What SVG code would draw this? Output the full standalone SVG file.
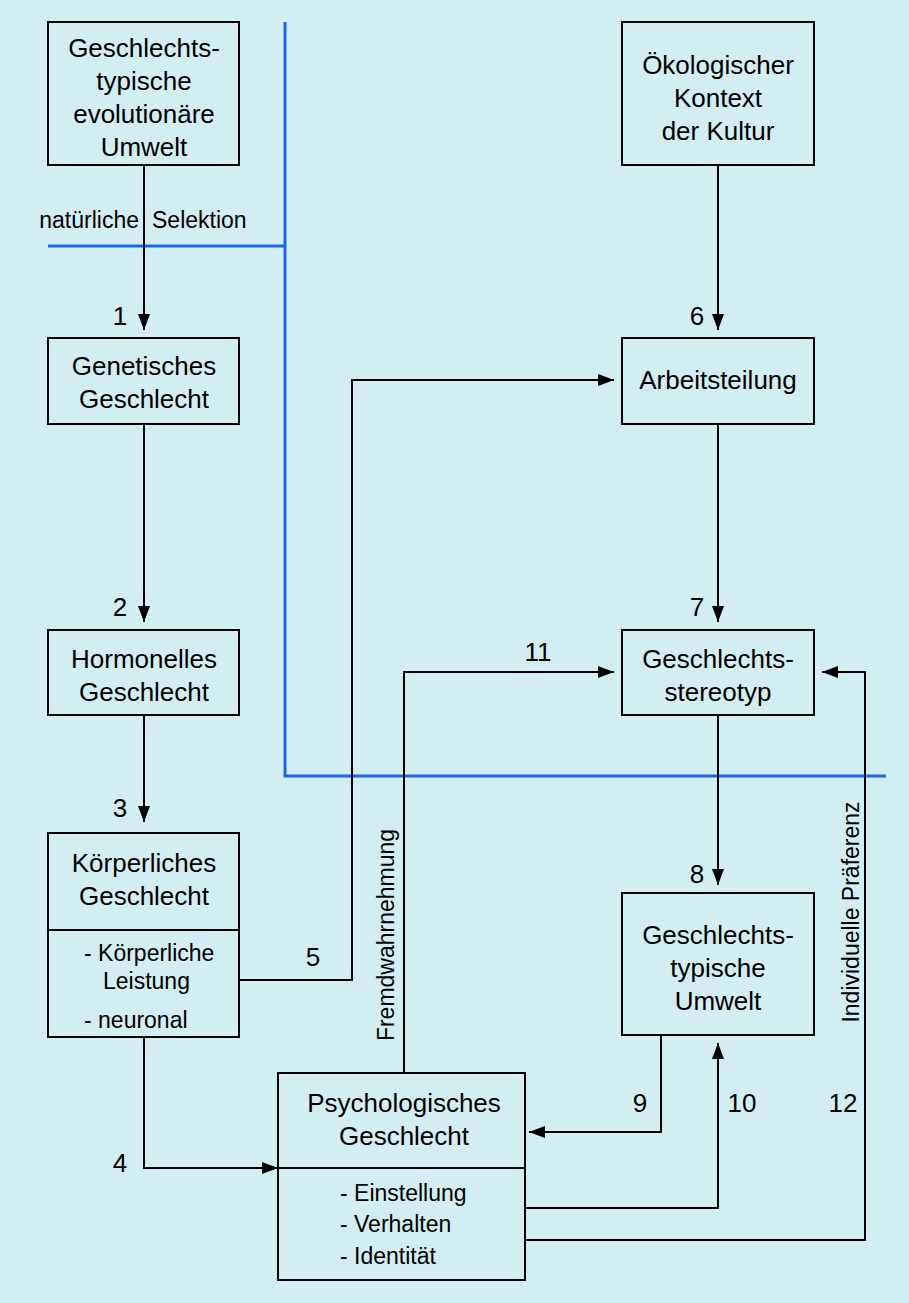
<svg xmlns="http://www.w3.org/2000/svg" width="909" height="1303" viewBox="0 0 909 1303">
<defs><marker id="ah" markerWidth="16" markerHeight="12" refX="16" refY="6" orient="auto" markerUnits="userSpaceOnUse"><path d="M0,0 L16,6 L0,12 z" fill="#000"/></marker></defs>
<style>
.b{fill:none;stroke:#000;stroke-width:2}
.c{fill:none;stroke:#000;stroke-width:2;marker-end:url(#ah)}
.bl{fill:none;stroke:#1a66e6;stroke-width:3}
text{font-family:"Liberation Sans",Arial,sans-serif;font-size:26px;fill:#000}
.m{text-anchor:middle}
.s{font-size:23px}
</style>
<rect width="909" height="1303" fill="#d3eef2"/>
<g id="blue"><path class="bl" d="M285,22 V776 H886 M48,246 H285"/></g>
<g id="connectors">
<path class="c" d="M144,165 V330"/>
<path class="c" d="M144,424 V622"/>
<path class="c" d="M144,715 V822"/>
<path class="c" d="M144,1037 V1168 H278"/>
<path class="c" d="M239,980 H352 V380 H614"/>
<path class="c" d="M718,165 V330"/>
<path class="c" d="M718,424 V622"/>
<path class="c" d="M718,715 V885"/>
<path class="c" d="M404,1073 V672 H614"/>
<path class="c" d="M661,1035 V1132 H529"/>
<path class="c" d="M525,1208 H718 V1043"/>
<path class="c" d="M525,1240 H865 V672 H822"/>
<text x="139" y="228" text-anchor="end" class="s">natürliche</text><text x="152" y="228" class="s">Selektion</text>
<text x="120" y="325" class="m">1</text><text x="120" y="616" class="m">2</text><text x="120" y="817" class="m">3</text><text x="120" y="1172" class="m">4</text>
<text x="313" y="966" class="m">5</text><text x="697" y="325" class="m">6</text><text x="697" y="616" class="m">7</text><text x="697" y="883" class="m">8</text>
<text x="640" y="1112" class="m">9</text><text x="742" y="1112" class="m">10</text><text x="538" y="661" class="m">11</text><text x="843" y="1112" class="m">12</text>
<text class="m s" transform="translate(394,935) rotate(-90)">Fremdwahrnehmung</text>
<text class="m s" transform="translate(859,912) rotate(-90)">Individuelle Präferenz</text>
</g>
<g id="n1"><rect class="b" x="48" y="22" width="191" height="143"/><text class="m" x="144" y="57">Geschlechts-</text><text class="m" x="144" y="90">typische</text><text class="m" x="144" y="123">evolutionäre</text><text class="m" x="144" y="156">Umwelt</text></g>
<g id="n2"><rect class="b" x="622" y="22" width="192" height="143"/><text class="m" x="718" y="74">Ökologischer</text><text class="m" x="718" y="107">Kontext</text><text class="m" x="718" y="140">der Kultur</text></g>
<g id="n3"><rect class="b" x="48" y="338" width="191" height="86"/><text class="m" x="144" y="375">Genetisches</text><text class="m" x="144" y="408">Geschlecht</text></g>
<g id="n4"><rect class="b" x="622" y="338" width="192" height="86"/><text class="m" x="718" y="389">Arbeitsteilung</text></g>
<g id="n5"><rect class="b" x="48" y="630" width="191" height="85"/><text class="m" x="144" y="668">Hormonelles</text><text class="m" x="144" y="701">Geschlecht</text></g>
<g id="n6"><rect class="b" x="622" y="630" width="192" height="85"/><text class="m" x="718" y="668">Geschlechts-</text><text class="m" x="718" y="701">stereotyp</text></g>
<g id="n7"><rect class="b" x="48" y="833" width="191" height="204"/><path class="b" d="M48,930 H239"/><text class="m" x="144" y="872">Körperliches</text><text class="m" x="144" y="905">Geschlecht</text><text class="s" x="84" y="961">-  Körperliche</text><text class="s" x="103" y="989">Leistung</text><text class="s" x="84" y="1028">-  neuronal</text></g>
<g id="n8"><rect class="b" x="622" y="893" width="192" height="142"/><text class="m" x="718" y="944">Geschlechts-</text><text class="m" x="718" y="977">typische</text><text class="m" x="718" y="1010">Umwelt</text></g>
<g id="n9"><rect class="b" x="278" y="1073" width="247" height="207"/><path class="b" d="M278,1168 H525"/><text class="m" x="404" y="1112">Psychologisches</text><text class="m" x="404" y="1145">Geschlecht</text><text class="s" x="340" y="1201">-  Einstellung</text><text class="s" x="340" y="1232">-  Verhalten</text><text class="s" x="340" y="1264">-  Identität</text></g>
</svg>
